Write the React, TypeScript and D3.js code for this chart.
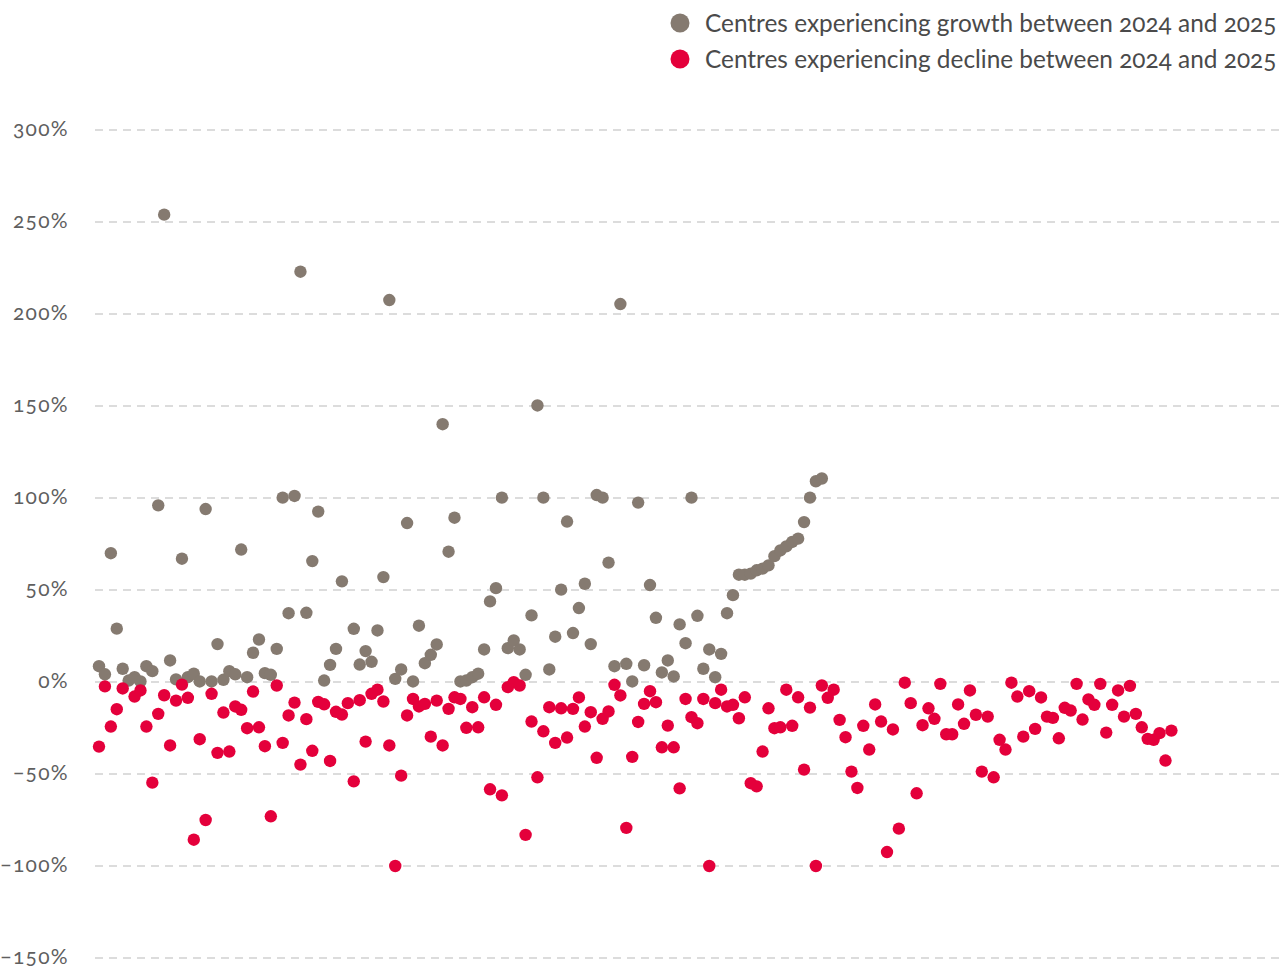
import * as d3 from "d3"

// growth centres, one value per centre index (null = no point)
const growth: (number | null)[] = [
  8.6, 4.2, 70, 29, 7.2, 0.8, 2.6, 0.3, 8.6, 5.9,
  96, 254, 11.7, 1.4, 67, 2.6, 4.5, 0.3, 94, 0.3,
  20.6, 1.2, 5.9, 4.2, 72, 2.6, 15.9, 23.1, 4.8, 3.9,
  18, 100.2, 37.4, 101.1, 223, 37.6, 65.7, 92.6, 0.8, 9.3,
  18, 54.7, null, 28.9, 9.5, 16.8, 11, 28, 57, 207.6,
  1.7, 6.8, 86.4, 0.3, 30.6, 10.2, 14.8, 20.4, 140.1, 70.8,
  89.3, 0.3, 0.8, 2.6, 4.5, 17.7, 43.8, 51, 100.2, 18.4,
  22.6, 17.7, 3.9, 36.2, 150.3, 100.2, 6.8, 24.6, 50.2, 87.2,
  26.6, 40.2, 53.4, 20.6, 101.6, 100.2, 64.9, 8.6, 205.4, 9.9,
  0.3, 97.5, 9.1, 52.7, 34.9, 5.2, 11.7, 3, 31.3, 21.1,
  100.2, 36, 7.2, 17.7, 2.6, 15.3, 37.4, 47.2, 58.3, 58.3,
  58.9, 60.7, 61.6, 63.4, 68.4, 71.5, 73.7, 76.1, 77.9, 86.9,
  100.2, 109.1, 110.6,
]

// declining centres
const decline: (number | null)[] = [
  -35.1, -2.4, -24.2, -14.8, -3.5, null, -7.9, -4.6, -24.2, -54.7,
  -17.3, -7.2, -34.5, -10.1, -1.4, -8.6, -85.7, -31.1, -75, -6.4,
  -38.5, -16.6, -37.8, -13.3, -15.1, -25.1, -5.2, -24.6, -34.9, -73,
  -1.9, -33.1, -18.2, -11.2, -44.9, -20.2, -37.4, -10.8, -12.1, -42.9,
  -16.2, -17.7, -11.5, -54, -9.9, -32.4, -6.4, -4.2, -10.6, -34.5,
  -100, -50.9, -18.2, -9.2, -13.3, -11.9, -29.7, -10.1, -34.5, -14.6,
  -8.3, -9.2, -24.9, -13.7, -24.6, -8.3, -58.3, -12.4, -61.6, -2.8,
  -0.1, -1.9, -83.1, -21.5, -51.8, -26.8, -13.7, -33.1, -14.3, -30.2,
  -14.6, -8.4, -24.2, -16.4, -41.2, -20, -16, -1.5, -7.3, -79.3,
  -40.7, -21.7, -11.9, -5, -11, -35.5, -23.7, -35.5, -57.8, -9.2,
  -19.1, -22.4, -9.2, -100, -11.5, -4.2, -13.3, -12.4, -19.7, -8.3,
  -55, -56.7, -37.8, -14.3, -25.1, -24.6, -4.2, -23.8, -8.3, -47.6,
  -13.9, -100, -1.9, -8.6, -4.2, -20.6, -30, -48.7, -57.6, -23.8,
  -36.7, -12.2, -21.5, -92.4, -25.8, -79.7, -0.4, -11.5, -60.5, -23.5,
  -14.3, -20, -1, -28.4, -28.4, -12.2, -22.7, -4.6, -17.8, -48.7,
  -18.8, -51.8, -31.4, -36.7, -0.4, -7.9, -29.7, -5, -25.5, -8.4,
  -18.8, -19.5, -30.6, -14, -15.5, -1, -20.4, -9.5, -12.4, -1,
  -27.5, -12.4, -4.6, -18.8, -2.1, -17.3, -24.6, -30.9, -31.4, -27.8,
  -42.7, -26.4,
]

const yTicks = [300, 250, 200, 150, 100, 50, 0, -50, -100, -150]

const legendItems = [
  { label: "Centres experiencing growth between 2024 and 2025", color: "#857a70" },
  { label: "Centres experiencing decline between 2024 and 2025", color: "#e4003b" },
]

export default function App() {
  const width = 1283
  const height = 972

  const x = d3.scaleLinear().domain([0, decline.length - 1]).range([99, 1171.4])
  const y = d3.scaleLinear().domain([-150, 300]).range([958, 130])

  const font = "Lato, 'Noto Sans', sans-serif"

  const series = [
    { values: growth, color: legendItems[0].color },
    { values: decline, color: legendItems[1].color },
  ]

  return (
    <svg
      width={width}
      height={height}
      style={{ position: "absolute", left: 0, top: 0, background: "#fff" }}
    >
      {/* gridlines + labels */}
      <g>
        {yTicks.map(t => (
          <g key={t}>
            <line
              x1={95}
              x2={1280}
              y1={y(t)}
              y2={y(t)}
              stroke="#dcdcdc"
              strokeWidth={2}
              strokeDasharray="8 6"
            />
            <text
              x={69}
              y={y(t)}
              dy="0.3em"
              textAnchor="end"
              fontFamily={font}
              fontSize={21}
              fill="#5f5f5f"
              style={{ fontVariantNumeric: "oldstyle-nums", letterSpacing: "1.3px" }}
            >
              {d3.format("d")(t)}%
            </text>
          </g>
        ))}
      </g>

      {/* points */}
      {series.map((s, si) => (
        <g key={si}>
          {s.values.map((v, i) =>
            v == null ? null : (
              <circle key={i} cx={x(i)} cy={y(v)} r={6.2} fill={s.color} />
            )
          )}
        </g>
      ))}

      {/* legend */}
      <g>
        {legendItems.map((d, i) => (
          <g key={d.label} transform={`translate(680, ${23 + i * 36})`}>
            <circle r={9.5} fill={d.color} />
            <text
              x={25}
              dy="0.35em"
              fontFamily={font}
              fontSize={24.4}
              fill="#4a4a4a"
              style={{ fontVariantNumeric: "oldstyle-nums" }}
            >
              {d.label}
            </text>
          </g>
        ))}
      </g>
    </svg>
  )
}
